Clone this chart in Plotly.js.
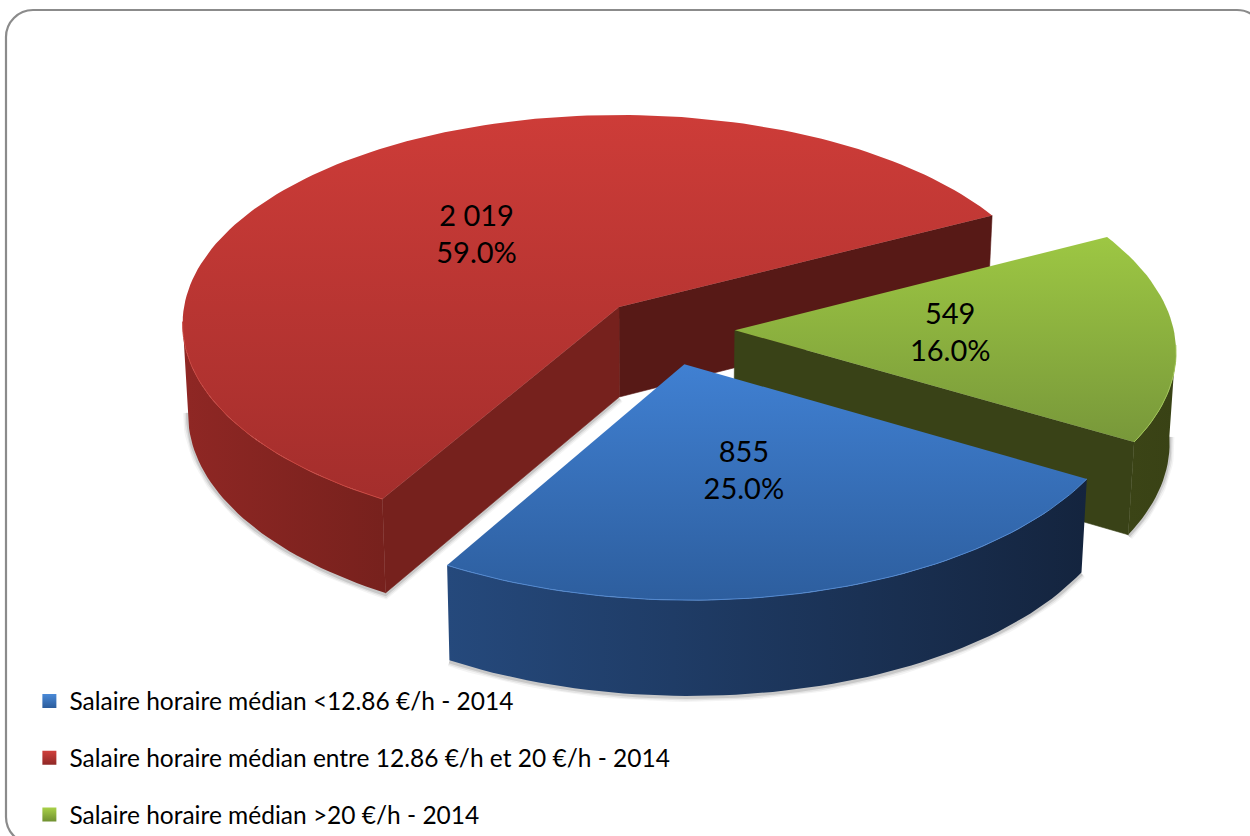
<!DOCTYPE html>
<html><head><meta charset="utf-8">
<script src="https://cdn.plot.ly/plotly-3.0.1.min.js"></script>
<style>html,body{margin:0;padding:0;background:#fff}#c{width:1250px;height:836px}</style>
</head><body><div id="c"></div>
<script>
// ---- data ----
const categories = ["Salaire horaire médian <12.86 €/h - 2014",
                    "Salaire horaire médian entre 12.86 €/h et 20 €/h - 2014",
                    "Salaire horaire médian >20 €/h - 2014"];
const values = [855, 2019, 549];
const valueLabels = ["855", "2 019", "549"];
const percentLabels = ["25.0%", "59.0%", "16.0%"];

// ---- styles ----
const topColors   = [["#4080d2","#2d5e9e"],["#cd3c38","#a42e2c"],["#9dc743","#78983a"]];
const sideColors  = [["#25497c","#14243e"],["#8f2724","#77211d"],["#3b4416","#394215"]];
const startWall   = [null,"#76211d",null];
const endWall     = [null,"#571916","#394217"];
const rimColors   = ["#5288cf","#c8453f","#a0c455"];
const legendHi    = ["#4a8ad8","#d0403c","#a8d048"];
const legendLo    = ["#2b5c9c","#8f2826","#6f8f30"];
const explodeX    = [0.147, 0, 0.2640];
const explodeY    = [0.27, 0, 0.1110];

// ---- projection of the tilted pie ----
const CX=619, CY=307, AX=435, BY=207.4, P=0.08, DEPTH=90, VX=640;
const START_DEG=30.5, LABEL_R=0.49, LABEL_DY=2, FRONT_LO=4, FRONT_HI=176;
function proj(X,Y){const w=1-P*Y;return [CX+AX*X/w, CY+BY*Y/w];}
function low(X,Y){const p=proj(X,Y);return [VX+(p[0]-VX)*0.988, p[1]+DEPTH*(1+0.05*Y)];}
function arc(i,a0,a1,fn){const pts=[];const n=Math.max(2,Math.ceil(Math.abs(a1-a0)/1.5));
  for(let k=0;k<=n;k++){const t=(a0+(a1-a0)*k/n)*Math.PI/180;
    pts.push(fn(explodeX[i]+Math.cos(t),explodeY[i]+Math.sin(t)));}return pts;}
const xs=a=>a.map(p=>p[0]), ys=a=>a.map(p=>p[1]);
const total=values.reduce((a,b)=>a+b,0);
let cum=START_DEG; const ranges=values.map(v=>{const a=cum;cum+=v/total*360;return [a,cum];});

function poly(pts,c0,c1,type){
  const vals=type==="vertical"?ys(pts):xs(pts);
  const solid=c0===c1;
  return {type:"scatter",mode:"lines",x:xs(pts),y:ys(pts),fill:"toself",
    line:solid?{width:0.6,color:c0}:{width:0},hoverinfo:"skip",showlegend:false,
    fillgradient:{type:type,start:Math.min(...vals),stop:Math.max(...vals),colorscale:[[0,c0],[1,c1]]}};
}
const traces=[];
function frontRange(i){let [a,b]=ranges[i];const out=[];
  for(const shift of [0,-360]){const lo=Math.max(a+shift,FRONT_LO),hi=Math.min(b+shift,FRONT_HI);if(hi>lo)out.push([lo,hi]);}
  return out;}
// soft shadow first
[[10,0.06],[7,0.09],[4,0.16]].forEach(([w,o])=>{
  values.forEach((v,i)=>{
    const pts=[];frontRange(i).forEach(r=>pts.push(...arc(i,r[0],r[1],low)));
    if(i===1){pts.unshift(low(explodeX[i],explodeY[i]));}
    traces.push({type:"scatter",mode:"lines",x:xs(pts),y:ys(pts).map(y=>y+1),
      line:{width:w,color:`rgba(60,60,60,${o})`},hoverinfo:"skip",showlegend:false});
  });
});
// painter's order: red, green, blue
[1,2,0].forEach(i=>{
  const [a,b]=ranges[i];
  const ex=explodeX[i],ey=explodeY[i];
  const edge=(deg)=>{const t=deg*Math.PI/180;return [ex+Math.cos(t),ey+Math.sin(t)];};
  const wall=(deg,col)=>{const e=edge(deg);
    const pts=[proj(ex,ey),proj(e[0],e[1]),low(e[0],e[1]),low(ex,ey),proj(ex,ey)];
    traces.push(poly(pts,col,col,"horizontal"));};
  if(endWall[i]) wall(b,endWall[i]);
  if(startWall[i]) wall(a,startWall[i]);
  frontRange(i).forEach(r=>{
    const up=arc(i,r[0],r[1],proj),dn=arc(i,r[0],r[1],low).reverse();
    traces.push(poly(up.concat(dn,[up[0]]),sideColors[i][0],sideColors[i][1],"horizontal"));
  });
  const top=[proj(ex,ey)].concat(arc(i,a,b,proj),[proj(ex,ey)]);
  traces.push(poly(top,topColors[i][0],topColors[i][1],"vertical"));
  frontRange(i).forEach(r=>{
    const up=arc(i,r[0],r[1],proj);
    traces.push({type:"scatter",mode:"lines",x:xs(up),y:ys(up),line:{width:1,color:rimColors[i]},
      hoverinfo:"skip",showlegend:false});
  });
});
// data labels
const labelPts=values.map((v,i)=>{const t=(ranges[i][0]+ranges[i][1])/2*Math.PI/180;
  return proj(explodeX[i]+LABEL_R*Math.cos(t),explodeY[i]+LABEL_R*Math.sin(t));});
traces.push({type:"scatter",mode:"text",x:xs(labelPts),y:ys(labelPts).map(y=>y+LABEL_DY),
  text:values.map((v,i)=>valueLabels[i]+"<br>"+percentLabels[i]),
  textposition:"middle center",textfont:{family:"Lato, sans-serif",size:29,color:"#000"},
  hoverinfo:"skip",showlegend:false});
// legend entries
categories.forEach((n,i)=>traces.push({type:"scatter",mode:"markers",x:[null],y:[null],name:n,
  legendgroup:"g"+i,hoverinfo:"skip",
  marker:{symbol:"square",size:14,color:legendHi[i],gradient:{type:"vertical",color:legendLo[i]}}}));

const k=0.5523,R=27,L=6,T=10,Rt=1264,B=844;
const border=`M ${L} ${T+R} C ${L} ${T+R-k*R} ${L+R-k*R} ${T} ${L+R} ${T} L ${Rt-R} ${T} C ${Rt-R+k*R} ${T} ${Rt} ${T+R-k*R} ${Rt} ${T+R} L ${Rt} ${B-R} C ${Rt} ${B-R+k*R} ${Rt-R+k*R} ${B} ${Rt-R} ${B} L ${L+R} ${B} C ${L+R-k*R} ${B} ${L} ${B-R+k*R} ${L} ${B-R} Z`;
const layout={width:1250,height:836,margin:{l:0,r:0,t:0,b:0,autoexpand:false},paper_bgcolor:"#fff",plot_bgcolor:"#fff",
  xaxis:{range:[0,1250],visible:false,fixedrange:true},
  yaxis:{range:[836,0],visible:false,fixedrange:true},
  shapes:[{type:"path",xref:"x",yref:"y",path:border,line:{color:"#8b8b8b",width:2.2},layer:"below"}],
  legend:{x:0.0235,y:0.1884,xanchor:"left",yanchor:"top",bgcolor:"rgba(0,0,0,0)",tracegroupgap:22,maxheight:400,
    font:{family:"Lato, sans-serif",size:24.5,color:"#000"},traceorder:"grouped"},
  showlegend:true,hovermode:false};
Plotly.newPlot("c",traces,layout,{displayModeBar:false,staticPlot:true});
</script></body></html>
